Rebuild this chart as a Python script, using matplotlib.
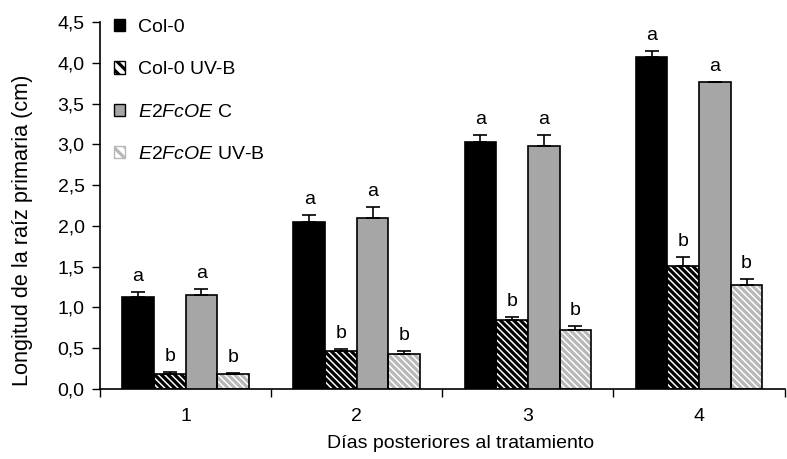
import numpy as np
import matplotlib
matplotlib.use('Agg')
import matplotlib.pyplot as plt
from matplotlib.ticker import FixedLocator, FuncFormatter
from matplotlib.patches import Patch

plt.rcParams['font.family'] = ['Liberation Sans', 'DejaVu Sans']
plt.rcParams['mathtext.fontset'] = 'custom'
plt.rcParams['mathtext.rm'] = 'Liberation Sans'
plt.rcParams['mathtext.it'] = 'Liberation Sans:italic'
plt.rcParams['hatch.linewidth'] = 2.3

days = ['1', '2', '3', '4']
series = ['Col-0', 'Col-0 UV-B', r'$\it{E2FcOE}$ C', r'$\it{E2FcOE}$ UV-B']

col0 = [1.13, 2.05, 3.03, 4.07]
col0_uvb = [0.19, 0.46, 0.85, 1.51]
e2f_c = [1.15, 2.10, 2.98, 3.76]
e2f_uvb = [0.18, 0.43, 0.72, 1.28]

col0_err = [0.06, 0.08, 0.08, 0.07]
col0_uvb_err = [0.02, 0.03, 0.03, 0.11]
e2f_c_err = [0.08, 0.13, 0.13, 0.0]
e2f_uvb_err = [0.02, 0.04, 0.05, 0.07]

letters = [['a', 'a', 'a', 'a'], ['b', 'b', 'b', 'b'],
           ['a', 'a', 'a', 'a'], ['b', 'b', 'b', 'b']]

values = [col0, col0_uvb, e2f_c, e2f_uvb]
errors = [col0_err, col0_uvb_err, e2f_c_err, e2f_uvb_err]
faces = ['black', 'white', '#a6a6a6', 'white']
hatch_colors = [None, 'black', None, '#b8b8b8']

fig = plt.figure(figsize=(7.87, 4.59), dpi=100)
ax = fig.add_axes([0.127, 0.1525, 0.870, 0.7995])

x = np.arange(1, len(days) + 1)
w = 0.185
offsets = [-1.5, -0.5, 0.5, 1.5]
hatch = '\\\\\\\\\\'

for i in range(4):
    pos = x + offsets[i] * w
    if hatch_colors[i] is not None:
        ax.bar(pos, values[i], w, color='white', edgecolor=hatch_colors[i],
               hatch=hatch, linewidth=0, zorder=2)
        ax.bar(pos, values[i], w, fill=False, edgecolor='black',
               linewidth=1.2, zorder=3)
    else:
        ax.bar(pos, values[i], w, color=faces[i], edgecolor='black',
               linewidth=1.2, zorder=3)
    lower = np.zeros(len(days))
    ax.errorbar(pos, values[i], yerr=[lower, errors[i]], fmt='none',
                ecolor='black', elinewidth=1.2, capsize=5, capthick=1.2, zorder=4)
    for j in range(len(days)):
        top = values[i][j] + errors[i][j]
        ax.annotate(letters[i][j], (pos[j], top), xytext=(0, 5),
                    textcoords='offset points', ha='center', va='bottom',
                    fontsize=14)

leg_handles = [
    Patch(facecolor='black', edgecolor='black'),
    Patch(facecolor='white', edgecolor='black', hatch='\\\\\\'),
    Patch(facecolor='#a6a6a6', edgecolor='black'),
    Patch(facecolor='white', edgecolor='#b8b8b8', hatch='\\\\\\'),
]
leg = ax.legend(leg_handles, series, loc='upper left', bbox_to_anchor=(0.0, 1.045),
                frameon=False, fontsize=14, handlelength=0.6, handleheight=0.6,
                labelspacing=1.3, handletextpad=0.65, borderaxespad=0.3)

ax.set_ylim(0, 4.5)
ax.set_xlim(0.5, 4.5)
ax.set_yticks(np.arange(0, 4.51, 0.5))
ax.yaxis.set_major_formatter(FuncFormatter(lambda v, p: f'{v:.1f}'.replace('.', ',')))
ax.xaxis.set_major_locator(FixedLocator([0.5, 1.5, 2.5, 3.5, 4.5]))
ax.xaxis.set_major_formatter(FuncFormatter(lambda v, p: ''))
ax.xaxis.set_minor_locator(FixedLocator(x))
ax.set_xticklabels(days, minor=True)
ax.tick_params(axis='x', which='minor', length=0, pad=14, labelsize=14)
ax.tick_params(axis='x', which='major', length=6, direction='out', width=1)
ax.tick_params(axis='y', length=6, direction='out', width=1, labelsize=14, pad=5)

for s in ['top', 'right']:
    ax.spines[s].set_visible(False)
ax.spines['left'].set_linewidth(1.2)
ax.spines['bottom'].set_linewidth(1.2)

ax.set_ylabel('Longitud de la raíz primaria (cm)', fontsize=15.6)
ax.set_xlabel('Días posteriores al tratamiento', fontsize=14)
ax.yaxis.set_label_coords(-0.098, 0.433)
ax.xaxis.set_label_coords(0.527, -0.126)

fig.savefig('out.png', dpi=100)
